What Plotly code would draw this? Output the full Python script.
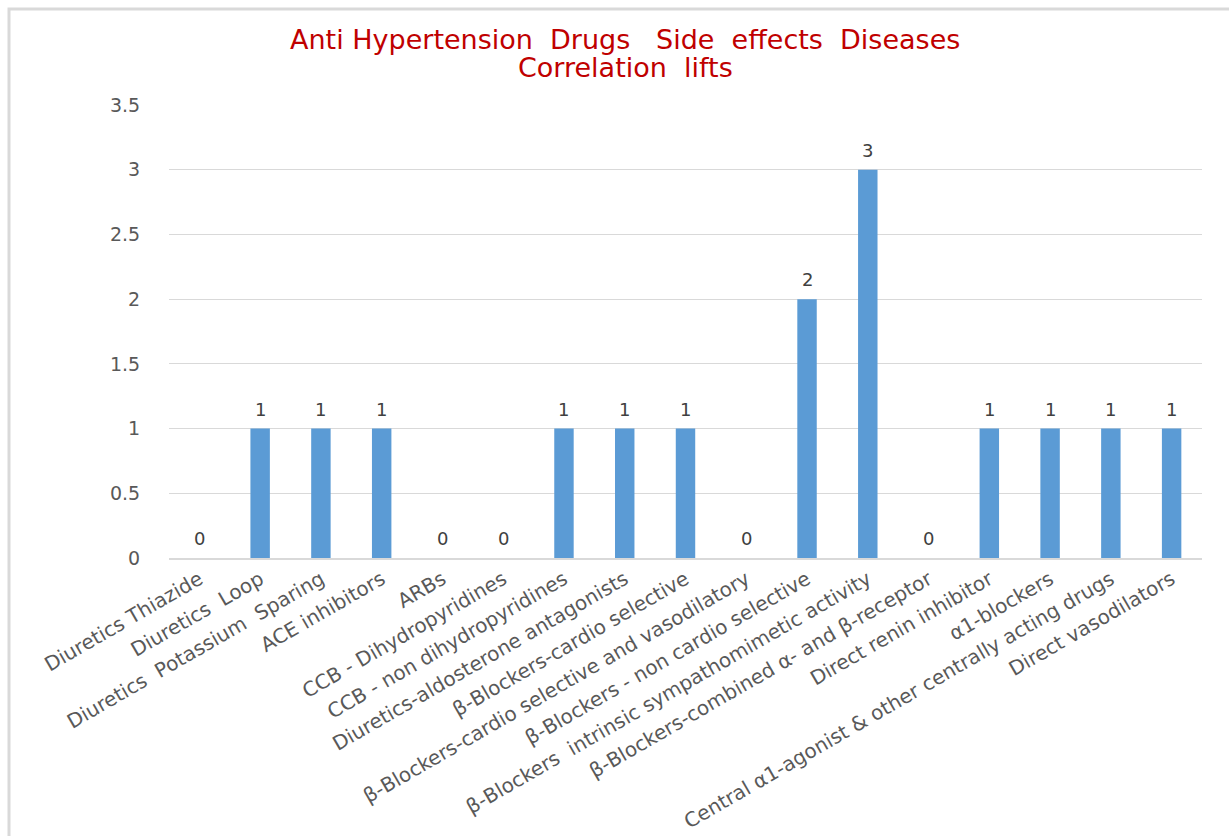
import plotly.graph_objects as go

categories = [
    "Diuretics Thiazide",
    "Diuretics  Loop",
    "Diuretics  Potassium  Sparing",
    "ACE inhibitors",
    "ARBs",
    "CCB - Dihydropyridines",
    "CCB - non dihydropyridines",
    "Diuretics-aldosterone antagonists",
    "β-Blockers-cardio selective",
    "β-Blockers-cardio selective and vasodilatory",
    "β-Blockers - non cardio selective",
    "β-Blockers  intrinsic sympathomimetic activity",
    "β-Blockers-combined α- and β-receptor",
    "Direct renin inhibitor",
    "α1-blockers",
    "Central α1-agonist & other centrally acting drugs",
    "Direct vasodilators",
]
lifts = [0, 1, 1, 1, 0, 0, 1, 1, 1, 0, 2, 3, 0, 1, 1, 1, 1]
y_ticks = [0, 0.5, 1, 1.5, 2, 2.5, 3, 3.5]
y_tick_labels = ["0", "0.5", "1", "1.5", "2", "2.5", "3", "3.5"]
title_lines = ["Anti Hypertension  Drugs   Side  effects  Diseases", "Correlation  lifts"]

FONT = "DejaVu Sans, Open Sans, sans-serif"
GRID = "#d9d9d9"

L, R, T, B = 169, 27, 105, 278
W, H = 1229, 836
pw, ph = W - L - R, H - T - B

def px_x(x):
    return (x - L) / pw

def px_y(y):
    return (H - B - y) / ph

fig = go.Figure()
fig.add_trace(go.Bar(
    x=categories,
    y=lifts,
    marker=dict(color="#5b9bd5", line=dict(width=0)),
    hoverinfo="x+y",
))

# value labels sitting above each bar (zero-height bars included)
annotations = [
    dict(
        x=cat,
        y=val,
        xref="x",
        yref="y",
        text=str(val),
        showarrow=False,
        yanchor="bottom",
        yshift=7,
        font=dict(family=FONT, size=18, color="#404040"),
    )
    for cat, val in zip(categories, lifts)
]

# two-line chart title with tight line spacing
for line_text, y_center in zip(title_lines, [40, 67]):
    annotations.append(dict(
        x=px_x(625),
        y=px_y(y_center),
        xref="paper",
        yref="paper",
        text=line_text,
        showarrow=False,
        xanchor="center",
        yanchor="middle",
        font=dict(family=FONT, size=27, color="#c00000"),
    ))

fig.update_layout(
    width=W,
    height=H,
    margin=dict(l=L, r=R, t=T, b=B),
    paper_bgcolor="white",
    plot_bgcolor="white",
    showlegend=False,
    bargap=0.68,
    annotations=annotations,
    xaxis=dict(
        range=[-0.5, len(categories) - 0.5],
        tickangle=-30,
        tickfont=dict(family=FONT, size=20, color="#595959"),
        showline=True,
        linecolor=GRID,
        linewidth=2,
        ticks="",
        showgrid=False,
        automargin=False,
    ),
    yaxis=dict(
        range=[0, 3.5],
        tickvals=y_ticks,
        ticktext=y_tick_labels,
        tickfont=dict(family=FONT, size=19, color="#595959"),
        showgrid=True,
        gridcolor=GRID,
        gridwidth=1,
        zeroline=False,
        showline=False,
        ticks="outside",
        ticklen=24,
        tickcolor="rgba(0,0,0,0)",
        automargin=False,
    ),
    shapes=[
        dict(
            type="path",
            xref="paper",
            yref="paper",
            path=f"M {px_x(9)},{px_y(H)} L {px_x(9)},{px_y(9)} L {px_x(W)},{px_y(9)}",
            line=dict(color=GRID, width=3),
        )
    ],
)

fig.write_html("out.html")
